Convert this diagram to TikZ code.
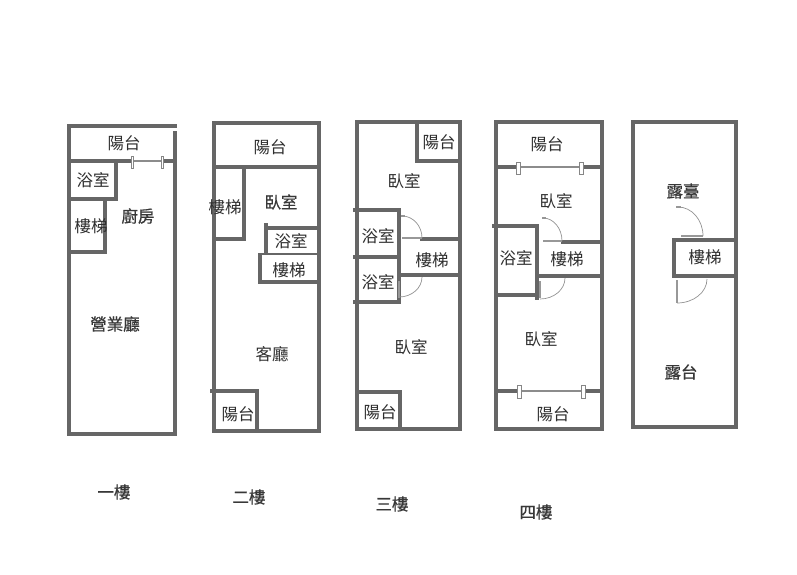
\documentclass[tikz,border=0pt]{standalone}
\usepackage{fontspec}
\setmainfont{Noto Sans CJK TC}
\newfontfamily\midcjk[FakeBold=0.7]{Noto Sans CJK TC}
\usetikzlibrary{positioning}
\definecolor{wallgray}{HTML}{666666}
\definecolor{leafgray}{HTML}{989898}
\tikzset{
    wall/.style={
        draw=wallgray,
        line width=4.8pt,
        line cap=rect,
        line join=miter
    },
    thinwall/.style={
        draw=wallgray,
        line width=2.6pt
    },
    swing/.style={
        draw=gray!85,
        line width=0.7pt
    },
    leaf/.style={
        draw=leafgray,
        line width=2.4pt
    },
    tick/.style={
        fill=leafgray
    },
    glass/.style={
        draw=gray!90,
        line width=1.2pt
    },
    jamb/.style={
        draw=gray!95,
        fill=white,
        line width=0.7pt
    },
    room/.style={
        font=\fontsize{16.5}{17}\selectfont,
        text=black!82,
        inner sep=0pt
    },
    strongroom/.style={
        font=\midcjk\fontsize{16.5}{17}\selectfont,
        text=black!78,
        inner sep=0pt
    }
}

\begin{document}
\begin{tikzpicture}[x=1pt,y=-1pt]
  \useasboundingbox (0,0) rectangle (797,575);
  \fill[white] (0,0) rectangle (797,575);

  % first floor
  \draw[wall] (175,434) -- (69,434) -- (69,126) -- (175,126);
  \draw[wall] (175,133) -- (175,434);
  \draw[wall] (69,161) -- (131,161);
  \draw[wall] (163,161) -- (175,161);
  \draw[wall] (116,161) -- (116,199) -- (69,199);
  \draw[wall] (105,199) -- (105,252) -- (69,252);
  \draw[glass] (132,161) -- (162,161);
  \draw[jamb] (131,156) rectangle (133,168);
  \draw[jamb] (161,156) rectangle (163,168);

  % second floor
  \draw[wall] (214,431) -- (214,123) -- (319,123) -- (319,431) -- cycle;
  \draw[wall] (214,167) -- (319,167);
  \draw[wall] (244,167) -- (244,239) -- (214,239);
  \draw[wall] (266,225) -- (266,253);
  \draw[wall] (266,228) -- (319,228);
  \draw[thinwall] (260,254) -- (319,254);
  \draw[wall] (319,282) -- (260,282) -- (260,255);
  \draw[wall] (212,391) -- (257,391) -- (257,431);

  % third floor
  \draw[wall] (357,429) -- (357,122) -- (460,122) -- (460,429) -- cycle;
  \draw[wall] (417,122) -- (417,161) -- (460,161);
  \draw[wall] (355,210) -- (399,210) -- (399,302) -- (355,302);
  \draw[wall] (355,257) -- (399,257);
  \draw[wall] (422,239) -- (460,239);
  \draw[wall] (399,275) -- (460,275);
  \draw[wall] (357,392) -- (400,392) -- (400,429);
  \draw[leaf] (402,238) -- (422,238);
  \fill[tick] (401,215) rectangle (405,217);
  \draw[swing] (402,216) arc[start angle=90,end angle=0,x radius=20pt,y radius=22pt];
  \draw[leaf] (399,281) -- (399,298);
  \draw[swing] (422,277) arc[start angle=0,end angle=-90,x radius=23pt,y radius=20pt];

  % fourth floor
  \draw[wall] (496,429) -- (496,122) -- (602,122) -- (602,429) -- cycle;
  \draw[wall] (496,167) -- (516,167);
  \draw[wall] (583,167) -- (602,167);
  \draw[glass] (518,167) -- (582,167);
  \draw[jamb] (516,162) rectangle (520,174);
  \draw[jamb] (579,162) rectangle (583,174);
  \draw[wall] (494,226) -- (537,226) -- (537,298);
  \draw[wall] (496,295) -- (537,295);
  \draw[wall] (563,242) -- (600,242);
  \draw[wall] (537,276) -- (602,276);
  \draw[leaf] (543,241) -- (562,241);
  \fill[tick] (542,217) rectangle (546,219);
  \draw[swing] (543,218) arc[start angle=90,end angle=0,x radius=19pt,y radius=23pt];
  \draw[leaf] (540,281) -- (540,298);
  \draw[swing] (565,278) arc[start angle=0,end angle=-90,x radius=25pt,y radius=21pt];
  \draw[wall] (496,391) -- (517,391);
  \draw[wall] (583,391) -- (602,391);
  \draw[glass] (518,391) -- (583,391);
  \draw[jamb] (517,385) rectangle (521,398);
  \draw[jamb] (581,385) rectangle (585,398);

  % roof
  \draw[wall] (633,427) -- (633,122) -- (736,122) -- (736,427) -- cycle;
  \draw[wall] (736,240) -- (674,240) -- (674,276) -- (736,276);
  \draw[leaf] (681,236) -- (703,236);
  \fill[tick] (676,206) rectangle (681,208);
  \draw[swing] (678,207) arc[start angle=90,end angle=0,x radius=25pt,y radius=29pt];
  \draw[leaf] (677,280) -- (677,303);
  \draw[swing] (707,279) arc[start angle=0,end angle=-90,x radius=30pt,y radius=24pt];

  % room names
  \foreach \x/\y/\name/\txt in {
    124/143/ba/陽台, 93/180/bb/浴室, 91/226/bc/樓梯,
    270/147/bd/陽台, 225/207/be/樓梯, 291/241/bf/浴室, 289/270/bg/樓梯,
    272/354/bh/客廳, 238/414/bi/陽台,
    439/142/ca/陽台, 404/181/cb/臥室, 378/236/cc/浴室, 432/260/cd/樓梯,
    378/282/ce/浴室, 411/347/cf/臥室, 380/412/cg/陽台,
    547/144/da/陽台, 556/201/db/臥室, 516/258/dc/浴室, 567/259/dd/樓梯,
    541/339/de/臥室, 553/414/df/陽台,
    705/257/ea/樓梯} {
    \node[room] (\name) at (\x,\y) {\txt};
  }
  \foreach \x/\y/\name/\txt in {
    138/216/sa/廚房, 115/324/sb/營業廳, 281/202/sc/臥室,
    683/191/sd/露臺, 681/372/se/露台,
    114/492/fa/一樓, 249/497/fb/二樓, 392/504/fc/三樓, 536/512/fd/四樓} {
    \node[strongroom] (\name) at (\x,\y) {\txt};
  }
\end{tikzpicture}
\end{document}
